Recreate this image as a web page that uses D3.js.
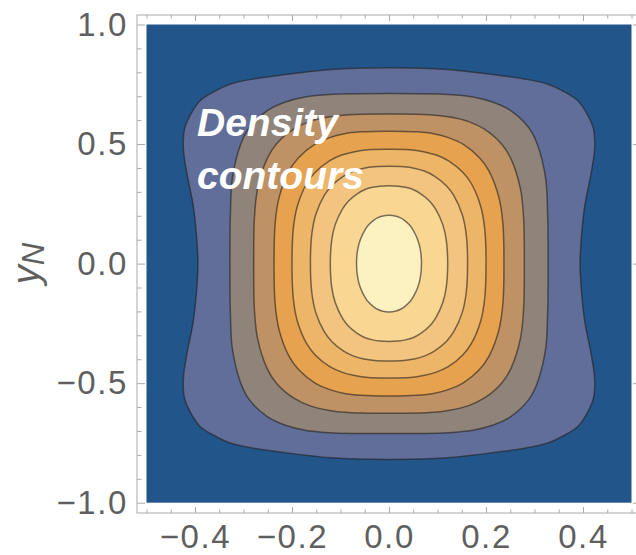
<!DOCTYPE html>
<html>
<head>
<meta charset="utf-8">
<script src="https://cdn.jsdelivr.net/npm/d3@7"></script>
<style>
  body { margin: 0; background: #fff; }
  svg { display: block; }
</style>
</head>
<body>
<div id="chart"></div>
<script>
// tick values
var xMajor = [-0.4, -0.2, 0, 0.2, 0.4];
var xMinor = [-0.5, -0.45, -0.35, -0.3, -0.25, -0.15, -0.1, -0.05, 0.05, 0.1, 0.15, 0.25, 0.3, 0.35, 0.45, 0.5];
var yMajor = [-1, -0.5, 0, 0.5, 1];
var yMinor = [-0.9, -0.8, -0.7, -0.6, -0.4, -0.3, -0.2, -0.1, 0.1, 0.2, 0.3, 0.4, 0.6, 0.7, 0.8, 0.9];

// background + band colours, outside -> centre
var bandColors = ["#22558a", "#606e99", "#8f837a", "#bf9266", "#e6a24f", "#edb567", "#f2c47f", "#f9d692", "#fcf2c1"];

// contour lines, first quadrant (x, y), outer -> inner
var level1 = [[0.394,0],[0.397,0.12],[0.404,0.246],[0.417,0.38],[0.424,0.48],[0.422,0.56],[0.41,0.62],[0.39,0.68],[0.36,0.72],[0.328,0.75],[0.28,0.772],[0.225,0.788],[0.12,0.812],[0,0.819]];
var level2 = [[0.328,0],[0.327,0.213],[0.323,0.356],[0.306,0.498],[0.288,0.569],[0.251,0.64],[0.215,0.675],[0.173,0.697],[0.123,0.707],[0,0.711]];
var level3 = [[0.279,0],[0.2776,0.188],[0.271,0.313],[0.2515,0.438],[0.2317,0.501],[0.196,0.563],[0.1628,0.595],[0.1257,0.613],[0.084,0.623],[0,0.626]];
var level4 = [[0.237,0],[0.2349,0.166],[0.2266,0.277],[0.206,0.388],[0.1865,0.443],[0.1533,0.499],[0.1237,0.526],[0.0922,0.543],[0.0584,0.551],[0,0.554]];
var level5 = [[0.2,0],[0.1975,0.143],[0.1892,0.239],[0.1697,0.335],[0.1521,0.382],[0.1229,0.43],[0.0975,0.454],[0.071,0.468],[0.0434,0.476],[0,0.478]];
var level6 = [[0.162,0],[0.1592,0.122],[0.1511,0.204],[0.1335,0.285],[0.1182,0.326],[0.0935,0.366],[0.0728,0.387],[0.0516,0.399],[0.0304,0.405],[0,0.407]];
var level7 = [[0.121,0],[0.1181,0.098],[0.1109,0.163],[0.0961,0.228],[0.0838,0.261],[0.0648,0.293],[0.0493,0.31],[0.0339,0.319],[0.0192,0.324],[0,0.326]];
var level8 = [[0.067,0],[0.0644,0.061],[0.059,0.101],[0.0494,0.141],[0.0419,0.162],[0.031,0.182],[0.0226,0.192],[0.0147,0.198],[0,0.202]];
var levels = [level1, level2, level3, level4, level5, level6, level7, level8];

var W = 636, H = 555;
var frame = {left: 137, top: 15, right: 641, bottom: 513};

var x = d3.scaleLinear().domain([-0.5, 0.5]).range([146.5, 631.5]);
var y = d3.scaleLinear().domain([-1, 1]).range([502.7, 24.5]);

var svg = d3.select("#chart").append("svg")
    .attr("width", W)
    .attr("height", H);

//Plot background
svg.append("rect")
    .attr("x", x(-0.5))
    .attr("y", y(1))
    .attr("width", x(0.5) - x(-0.5))
    .attr("height", y(-1) - y(1))
    .attr("fill", bandColors[0]);

//Mirror one quadrant into a closed ring
function ring(q) {
  var tl = q.slice(0, -1).reverse().map(function(p) { return [-p[0], p[1]]; });
  var bl = q.slice(1).map(function(p) { return [-p[0], -p[1]]; });
  var br = q.slice(1, -1).reverse().map(function(p) { return [p[0], -p[1]]; });
  return q.concat(tl, bl, br);
}

var line = d3.line()
    .x(function(d) { return x(d[0]); })
    .y(function(d) { return y(d[1]); })
    .curve(d3.curveCatmullRomClosed.alpha(0.5));

svg.append("g").selectAll("path")
    .data(levels)
  .enter().append("path")
    .attr("d", function(d) { return line(ring(d)); })
    .attr("fill", function(d, i) { return bandColors[i + 1]; })
    .attr("stroke", "rgba(35,32,30,0.6)")
    .attr("stroke-width", 1.5);

//Frame
svg.append("rect")
    .attr("x", frame.left)
    .attr("y", frame.top)
    .attr("width", frame.right - frame.left)
    .attr("height", frame.bottom - frame.top)
    .attr("fill", "none")
    .attr("stroke", "#aaaaaa")
    .attr("stroke-width", 1);

//Inward ticks on all four sides
function ticks(axis, tx, ty, vals, size) {
  var g = svg.append("g")
      .attr("transform", "translate(" + tx + "," + ty + ")")
      .call(axis.tickValues(vals).tickSize(size).tickFormat(""));
  g.select(".domain").remove();
  g.selectAll("line").attr("stroke", "#aaaaaa");
}
ticks(d3.axisRight(y), frame.left, 0, yMajor, 8);
ticks(d3.axisRight(y), frame.left, 0, yMinor, 4.5);
ticks(d3.axisLeft(y), frame.right, 0, yMajor, 8);
ticks(d3.axisLeft(y), frame.right, 0, yMinor, 4.5);
ticks(d3.axisTop(x), 0, frame.bottom, xMajor, 6);
ticks(d3.axisTop(x), 0, frame.bottom, xMinor, 3.5);
ticks(d3.axisBottom(x), 0, frame.top, xMajor, 6);
ticks(d3.axisBottom(x), 0, frame.top, xMinor, 3.5);

//Tick labels
var fmt = function(d) { return d3.format(".1f")(d).replace("-", "\u2212"); };

var yLab = svg.append("g")
    .attr("transform", "translate(" + frame.left + ",0)")
    .call(d3.axisLeft(y).tickValues(yMajor).tickSize(0).tickPadding(9).tickFormat(fmt));
yLab.select(".domain").remove();

var xLab = svg.append("g")
    .attr("transform", "translate(0," + frame.bottom + ")")
    .call(d3.axisBottom(x).tickValues(xMajor).tickSize(0).tickPadding(12).tickFormat(fmt));
xLab.select(".domain").remove();

svg.selectAll(".tick text")
    .attr("font-family", "'Liberation Sans', Arial, sans-serif")
    .attr("font-size", 33)
    .attr("letter-spacing", 1.6)
    .attr("fill", "#5f5f5f");

//Y axis title
var yt = svg.append("text")
    .attr("transform", "translate(39," + y(0) + ") rotate(-90)")
    .attr("text-anchor", "middle")
    .attr("font-family", "'Liberation Sans', Arial, sans-serif")
    .attr("font-style", "italic")
    .attr("fill", "#5f5f5f");
yt.append("tspan").attr("font-size", 38).text("y");
yt.append("tspan").attr("font-size", 31).attr("dy", 5).text("N");

//Annotation
var note = svg.append("text")
    .attr("font-family", "'Liberation Sans', Arial, sans-serif")
    .attr("font-style", "italic")
    .attr("font-weight", "bold")
    .attr("font-size", 39)
    .attr("fill", "#ffffff");
note.append("tspan").attr("x", 197).attr("y", 136).text("Density");
note.append("tspan").attr("x", 197).attr("y", 189).text("contours");
</script>
</body>
</html>
